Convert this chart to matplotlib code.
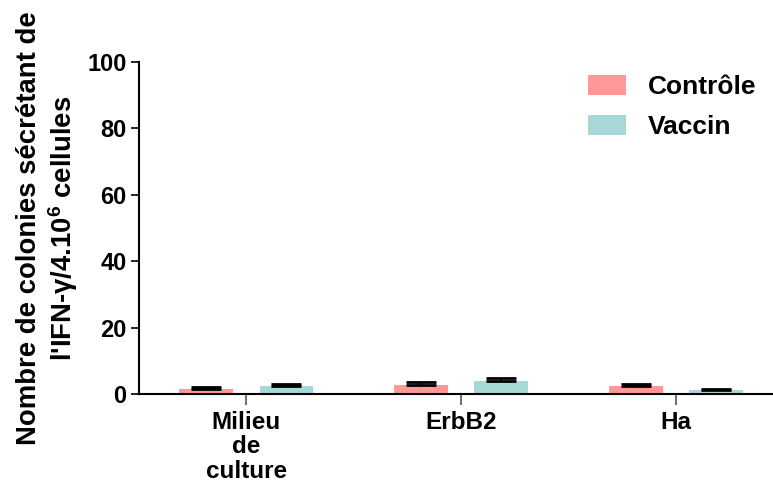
import matplotlib
matplotlib.use("Agg")
import matplotlib.pyplot as plt
import numpy as np
from matplotlib.patches import Patch

plt.rcParams['font.family'] = ['Liberation Sans', 'DejaVu Sans']
plt.rcParams['font.weight'] = 'bold'
plt.rcParams['mathtext.fontset'] = 'custom'
plt.rcParams['mathtext.rm'] = 'Liberation Sans:bold'
plt.rcParams['mathtext.it'] = 'Liberation Sans:bold'
plt.rcParams['mathtext.bf'] = 'Liberation Sans:bold'

categories = ["Milieu\nde\nculture", "ErbB2", "Ha"]
series_names = ["Contrôle", "Vaccin"]
controle = [1.6, 2.7, 2.3]
controle_err = [0.4, 0.8, 0.6]
vaccin = [2.4, 3.9, 1.3]
vaccin_err = [0.6, 0.8, 0.3]
yticks = [0, 20, 40, 60, 80, 100]

colors = ["#FF9896", "#A8D7D7"]

fig = plt.figure(figsize=(7.73, 4.84), dpi=100)
ax = fig.add_axes([139/773, 1-394/484, 634/773, 332/484])

x = np.arange(len(categories))
w = 0.251
off = 0.188
for vals, errs, sign, col in [(controle, controle_err, -1, colors[0]), (vaccin, vaccin_err, 1, colors[1])]:
    ax.bar(x + sign*off, vals, width=w, color=col, zorder=2)
    ax.errorbar(x + sign*off, vals, yerr=[np.zeros(len(vals)), errs], fmt='none',
                ecolor='black', elinewidth=1.5, capsize=10.5, capthick=2.0, zorder=3)

ax.set_xlim(-0.498, 2.451)
ax.set_ylim(0, 100)
ax.set_yticks(yticks)
ax.set_xticks(x)
ax.set_xticklabels(categories, fontsize=17.5, fontweight='bold', linespacing=1.1)
ax.tick_params(axis='y', labelsize=17, length=6, width=1.2, pad=3)
ax.tick_params(axis='x', length=8, width=1.2, color='#555555', pad=4)
for s in ['top', 'right']:
    ax.spines[s].set_visible(False)
for s in ['left', 'bottom']:
    ax.spines[s].set_linewidth(1.5)

ax.set_ylabel("Nombre de colonies sécrétant de\nl'IFN-γ/4.10$^{6}$ cellules",
              fontsize=19.8, fontweight='bold', linespacing=1.15)
ax.yaxis.set_label_coords(-0.093, 0.5)

handles = [Patch(facecolor=c, edgecolor='none') for c in colors]
ax.legend(handles, series_names, loc='upper left', bbox_to_anchor=(0.708, 0.961),
          frameon=False, fontsize=19, handlelength=1.44, handleheight=0.76,
          handletextpad=0.83, labelspacing=0.61, borderpad=0, borderaxespad=0)

fig.savefig("out.png", dpi=100)
